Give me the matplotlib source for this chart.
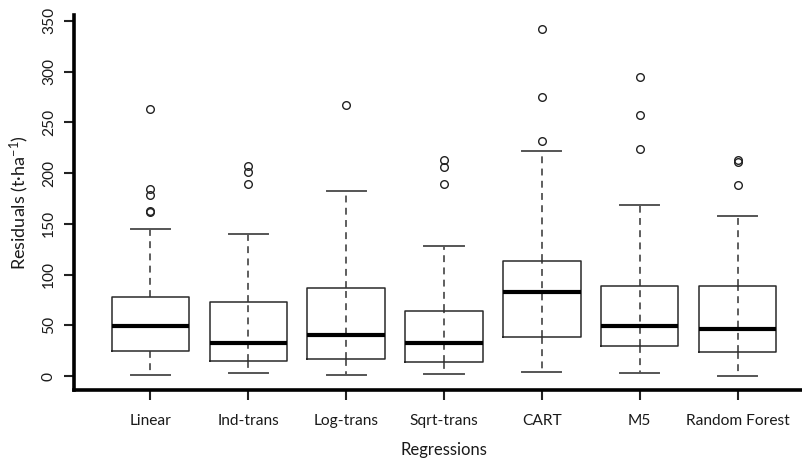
import matplotlib
matplotlib.use("Agg")
import matplotlib.pyplot as plt

plt.rcParams['font.family'] = ['Lato', 'DejaVu Sans']
plt.rcParams['mathtext.fontset'] = 'custom'
plt.rcParams['mathtext.rm'] = 'Lato'
plt.rcParams['mathtext.it'] = 'Lato:italic'

categories = ["Linear", "Ind-trans", "Log-trans", "Sqrt-trans", "CART", "M5", "Random Forest"]
whislo = [0.8, 2.8, 0.8, 2.5, 3.8, 2.8, 0.0]
q1 = [25.1, 14.6, 17.3, 14.0, 38.7, 29.4, 23.5]
med = [49.8, 32.3, 40.6, 32.3, 82.6, 49.5, 46.8]
q3 = [77.7, 73.2, 86.6, 63.9, 113.2, 88.3, 88.3]
whishi = [145.2, 139.8, 182.3, 128.0, 221.7, 168.4, 157.6]
outliers = [
    [262.8, 184.0, 178.0, 162.2, 161.6],
    [206.9, 201.0, 188.9],
    [267.1],
    [212.8, 206.3, 188.9],
    [342.4, 275.0, 231.6],
    [294.7, 257.2, 223.4],
    [213.0, 210.8, 188.6],
]
through_box = [False, True, True, True, True, True, True]
yticks = [0, 50, 100, 150, 200, 250, 300, 350]

fig = plt.figure(figsize=(8.03, 4.62), dpi=100)
ax = fig.add_axes([74 / 803, 1 - 390 / 462, (814 - 74) / 803, (390 - 15) / 462])

stats = []
for i, name in enumerate(categories):
    stats.append(dict(label=name, whislo=whislo[i], q1=q1[i], med=med[i],
                      q3=q3[i], whishi=whishi[i], fliers=outliers[i]))

positions = list(range(1, len(categories) + 1))
ax.bxp(stats, positions=positions, widths=0.79, showfliers=True,
       boxprops=dict(color='#2a2a2a', linewidth=1.1),
       medianprops=dict(color='black', linewidth=3.0, solid_capstyle='butt'),
       whiskerprops=dict(color='#333333', linewidth=1.1, linestyle=(0, (4.5, 3.5))),
       capprops=dict(color='#555555', linewidth=1.4),
       capwidths=0.4,
       flierprops=dict(marker='o', markersize=5.5, markerfacecolor='none',
                       markeredgecolor='#222222', markeredgewidth=1.0),
       manage_ticks=False)

for i, p in enumerate(positions):
    if through_box[i]:
        ax.plot([p, p], [q1[i], q3[i]], color='#333333', linewidth=1.1,
                linestyle=(0, (4.5, 3.5)), zorder=1.5)

ax.set_xlim(0.22, 7.78)
ax.set_ylim(-13.7, 355.7)
ax.set_xticks(positions)
ax.set_xticklabels(categories, fontsize=11.2, color='#1a1a1a')
ax.set_yticks(yticks)
ax.set_yticklabels([str(v) for v in yticks], fontsize=11.2, rotation=90,
                   va='center', color='#1a1a1a')

for s in ['top', 'right']:
    ax.spines[s].set_visible(False)
for s in ['left', 'bottom']:
    ax.spines[s].set_linewidth(2.6)
    ax.spines[s].set_color('black')
ax.tick_params(axis='both', direction='out', length=7, width=1.5, color='#222222')
ax.tick_params(axis='x', pad=10)
ax.tick_params(axis='y', pad=6)

ax.set_xlabel('Regressions', fontsize=12, color='#1a1a1a', labelpad=10)
ax.set_ylabel('Residuals (t·ha$^{-1}$)', fontsize=13, color='#1a1a1a', labelpad=8)

fig.savefig('out.png', dpi=100)
